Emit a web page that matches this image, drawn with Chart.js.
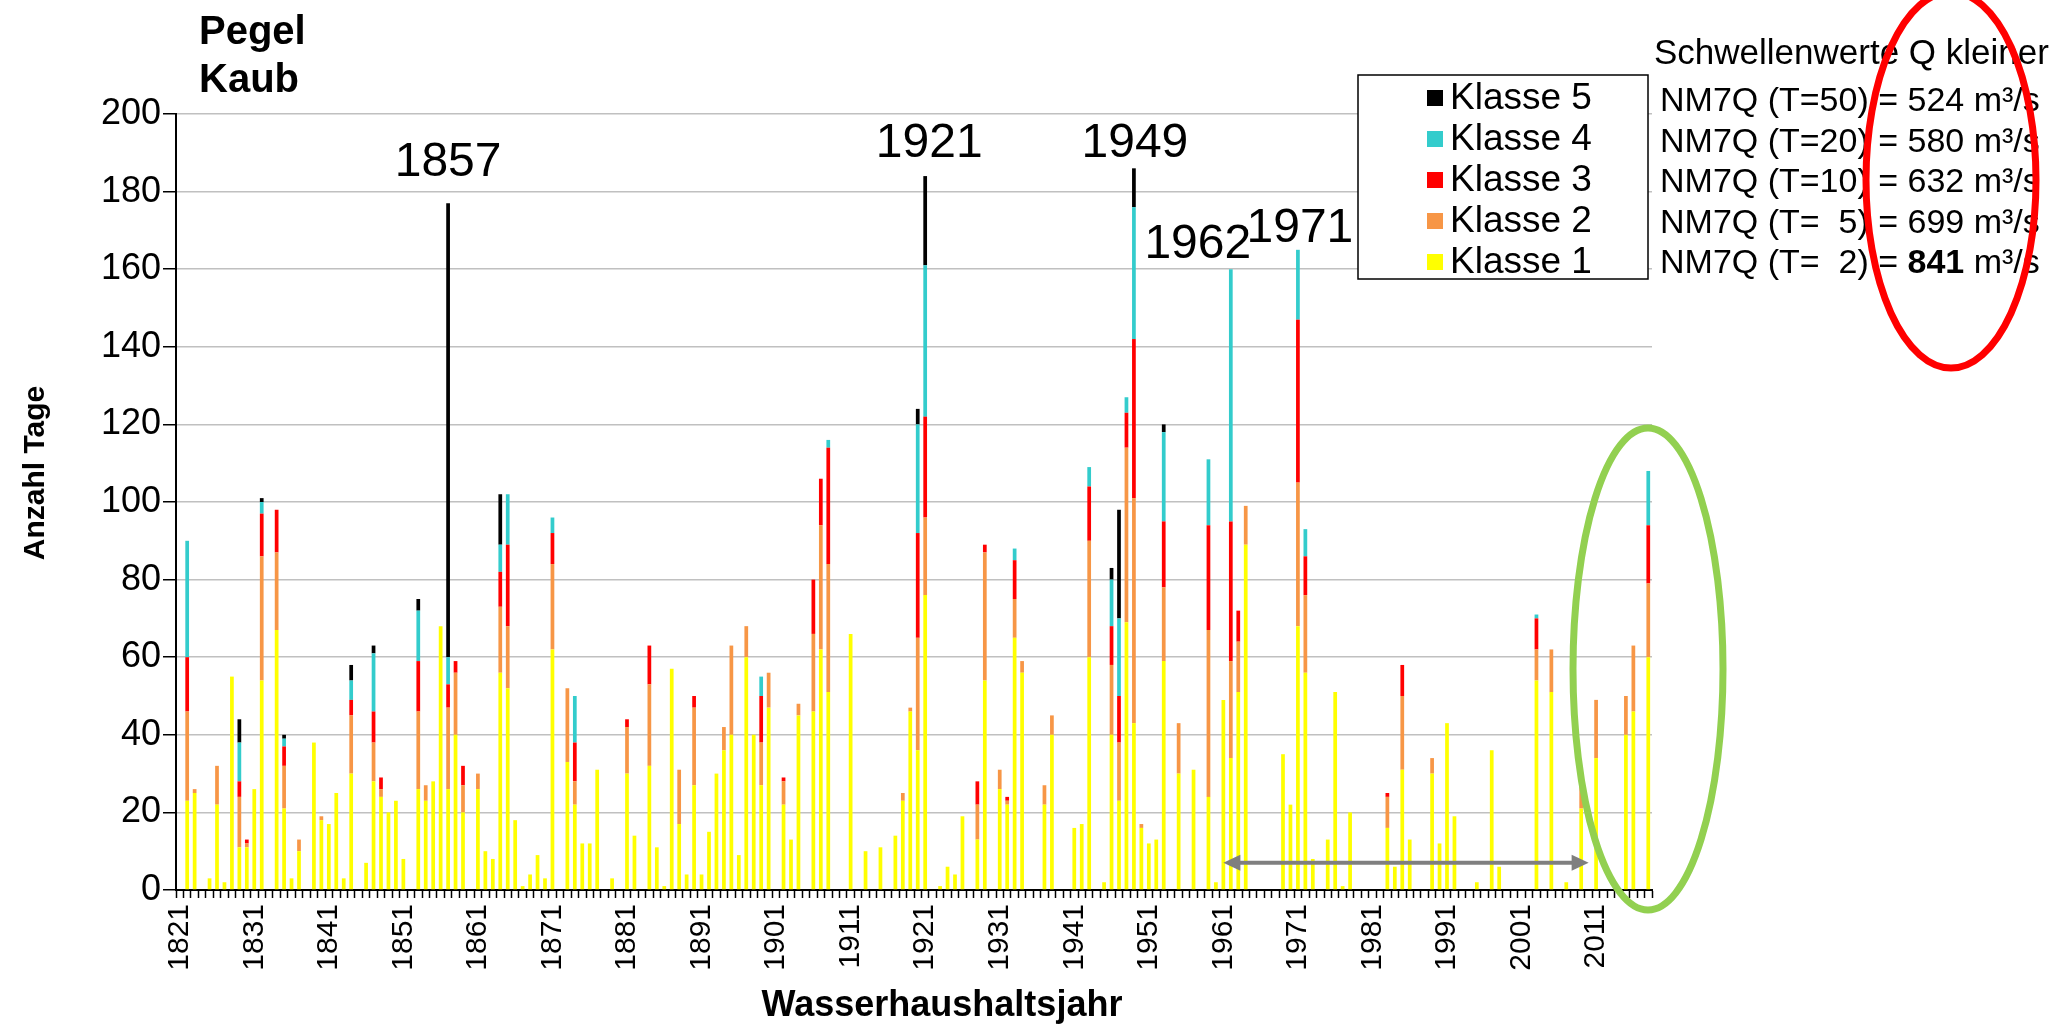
<!DOCTYPE html>
<html>
<head>
<meta charset="utf-8">
<title>Pegel Kaub</title>
<script src="https://cdn.jsdelivr.net/npm/chart.js@4.4.1/dist/chart.umd.min.js"></script>
<style>
  html, body { margin: 0; padding: 0; background: #fff; }
  #wrap { width: 2062px; height: 1024px; position: relative; }
</style>
</head>
<body>
<div id="wrap"><canvas id="chart" width="2062" height="1024"></canvas></div>
<script>
// Wasserhaushaltsjahre 1821..2018 (x-Kategorien)
const years = [];
for (let y = 1821; y <= 2018; y++) years.push(String(y));

// Jahre mit Niedrigwassertagen
const dataYears = [
  1822,1823,1825,1826,1827,1828,1829,1830,1831,1832,
  1834,1835,1836,1837,1839,1840,1841,1842,1843,1844,
  1846,1847,1848,1849,1850,1851,1853,1854,1855,1856,
  1857,1858,1859,1861,1862,1863,1864,1865,1866,1867,
  1868,1869,1870,1871,1873,1874,1875,1876,1877,1879,
  1881,1882,1884,1885,1886,1887,1888,1889,1890,1891,
  1892,1893,1894,1895,1896,1897,1898,1899,1900,1902,
  1903,1904,1906,1907,1908,1911,1913,1915,1917,1918,
  1919,1920,1921,1923,1924,1925,1926,1928,1929,1931,
  1932,1933,1934,1937,1938,1941,1942,1943,1945,1946,
  1947,1948,1949,1950,1951,1952,1953,1955,1957,1959,
  1960,1961,1962,1963,1964,1969,1970,1971,1972,1973,
  1975,1976,1977,1978,1983,1984,1985,1986,1989,1990,
  1991,1992,1995,1997,1998,2003,2005,2007,2009,2011,
  2015,2016,2018
];

// Anzahl Tage je Klasse (gleiche Reihenfolge wie dataYears)
const klasse1 = [
  23,25,3,22,2,55,11,11,26,54,
  67,21,3,10,38,18,17,25,3,30,
  7,28,24,20,23,8,26,23,28,68,
  26,40,20,26,10,8,56,52,18,1,
  4,9,3,62,33,22,12,12,31,3,
  30,14,32,11,1,57,17,4,27,4,
  15,30,36,40,9,60,40,27,47,22,
  13,45,46,62,51,66,10,11,14,23,
  46,36,76,1,6,4,19,13,54,26,
  22,65,56,22,40,16,17,60,2,40,
  23,69,43,16,12,13,59,30,31,24,
  2,49,34,51,89,35,22,68,56,8,
  13,51,1,20,16,6,31,13,30,12,
  43,19,2,36,6,54,51,2,21,34,
  40,46,60
];
const klasse2 = [
  23,1,0,10,0,0,13,1,0,32,
  20,11,0,3,0,1,0,0,0,15,
  0,10,2,0,0,0,20,4,0,0,
  21,16,7,4,0,0,17,16,0,0,
  0,0,0,22,19,6,0,0,0,0,
  12,0,21,0,0,0,14,0,20,0,
  0,0,6,23,0,8,0,11,9,6,
  0,3,20,32,33,0,0,0,0,2,
  1,29,20,0,0,0,0,9,33,5,
  1,10,3,5,5,0,0,30,0,18,
  15,45,58,1,0,0,19,13,0,43,
  0,0,25,13,10,0,0,37,20,0,
  0,0,0,0,8,0,19,0,4,0,
  0,0,0,0,0,8,11,0,8,15,
  10,17,19
];
const klasse3 = [
  14,0,0,0,0,0,4,1,0,11,
  11,5,0,0,0,0,0,0,0,4,
  0,8,3,0,0,0,13,0,0,0,
  6,3,5,0,0,0,9,21,0,0,
  0,0,0,8,0,10,0,0,0,0,
  2,0,10,0,0,0,0,0,3,0,
  0,0,0,0,0,0,0,12,0,1,
  0,0,14,12,30,0,0,0,0,0,
  0,27,26,0,0,0,0,6,2,0,
  1,10,0,0,0,0,0,14,0,10,
  12,9,41,0,0,0,17,0,0,27,
  0,0,36,8,0,0,0,42,10,0,
  0,0,0,0,1,0,8,0,0,0,
  0,0,0,0,0,8,0,0,0,0,
  0,0,15
];
const klasse4 = [
  30,0,0,0,0,0,10,0,0,3,
  0,2,0,0,0,0,0,0,0,5,
  0,15,0,0,0,0,13,0,0,0,
  7,0,0,0,0,0,7,13,0,0,
  0,0,0,4,0,12,0,0,0,0,
  0,0,0,0,0,0,0,0,0,0,
  0,0,0,0,0,0,0,5,0,0,
  0,0,0,0,2,0,0,0,0,0,
  0,28,39,0,0,0,0,0,0,0,
  0,3,0,0,0,0,0,5,0,12,
  20,4,34,0,0,0,23,0,0,17,
  0,0,65,0,0,0,0,18,7,0,
  0,0,0,0,0,0,0,0,0,0,
  0,0,0,0,0,1,0,0,0,0,
  0,0,14
];
const klasse5 = [
  0,0,0,0,0,0,6,0,0,1,
  0,1,0,0,0,0,0,0,0,4,
  0,2,0,0,0,0,3,0,0,0,
  117,0,0,0,0,0,13,0,0,0,
  0,0,0,0,0,0,0,0,0,0,
  0,0,0,0,0,0,0,0,0,0,
  0,0,0,0,0,0,0,0,0,0,
  0,0,0,0,0,0,0,0,0,0,
  0,4,23,0,0,0,0,0,0,0,
  0,0,0,0,0,0,0,0,0,3,
  28,0,10,0,0,0,2,0,0,0,
  0,0,0,0,0,0,0,0,0,0,
  0,0,0,0,0,0,0,0,0,0,
  0,0,0,0,0,0,0,0,0,0,
  0,0,0
];

const yTicks = [0, 20, 40, 60, 80, 100, 120, 140, 160, 180, 200];

// markierte Jahre und Hoehe der Beschriftung (Anzahl Tage)
const markYears = ['1857', '1921', '1949', '1962', '1971'];
const markLevel = [184, 189, 189, 163, 167];

const thresholds = ['T=50', 'T=20', 'T=10', 'T=  5', 'T=  2'];
const thresholdQ = ['524', '580', '632', '699', '841'];

// Werte auf alle Jahre verteilen
function expand(vals) {
  const out = years.map(() => null);
  dataYears.forEach((y, i) => { if (vals[i]) out[y - 1821] = vals[i]; });
  return out;
}

const FONT = '"Liberation Sans", Arial, sans-serif';
const colors = ['#FFFF00', '#F79646', '#FF0000', '#33CCCC', '#000000'];
const names = ['Klasse 1', 'Klasse 2', 'Klasse 3', 'Klasse 4', 'Klasse 5'];
const series = [klasse1, klasse2, klasse3, klasse4, klasse5];

const datasets = series.map((s, i) => ({
  label: names[i],
  data: expand(s),
  backgroundColor: colors[i],
  borderWidth: 0,
  barPercentage: 0.5,
  categoryPercentage: 1.0,
}));

const overlay = {
  id: 'overlay',
  afterDraw(chart) {
    const c = chart.ctx;
    const xs = chart.scales.x, ys = chart.scales.y;
    c.save();

    // Pfeil 1961 - 2010
    const ax1 = xs.getPixelForValue(1961 - 1821), ax2 = xs.getPixelForValue(2010 - 1821);
    const ay = ys.getPixelForValue(7);
    c.strokeStyle = '#7f7f7f'; c.fillStyle = '#7f7f7f'; c.lineWidth = 4;
    c.beginPath(); c.moveTo(ax1 + 14, ay); c.lineTo(ax2 - 14, ay); c.stroke();
    c.beginPath(); c.moveTo(ax1, ay); c.lineTo(ax1 + 17, ay - 8); c.lineTo(ax1 + 17, ay + 8); c.closePath(); c.fill();
    c.beginPath(); c.moveTo(ax2, ay); c.lineTo(ax2 - 17, ay - 8); c.lineTo(ax2 - 17, ay + 8); c.closePath(); c.fill();

    // Jahreszahlen
    const dx = [0, 4, 1, -33, 2];
    c.fillStyle = '#000'; c.font = '48px ' + FONT; c.textAlign = 'center'; c.textBaseline = 'alphabetic';
    markYears.forEach((y, i) => {
      c.fillText(y, xs.getPixelForValue(+y - 1821) + dx[i], ys.getPixelForValue(markLevel[i]));
    });

    // Titel
    c.textAlign = 'left';
    c.font = 'bold 40px ' + FONT;
    c.fillText('Pegel', 199, 44);
    c.fillText('Kaub', 199, 92);

    // Achsentitel
    c.font = 'bold 36px ' + FONT;
    c.textAlign = 'center';
    c.fillText('Wasserhaushaltsjahr', 942, 1016);
    c.font = 'bold 30px ' + FONT;
    c.save();
    c.translate(44, 473); c.rotate(-Math.PI / 2);
    c.fillText('Anzahl Tage', 0, 0);
    c.restore();

    // Legende
    c.fillStyle = '#fff'; c.fillRect(1358, 75, 290, 204);
    c.strokeStyle = '#000'; c.lineWidth = 1.5; c.strokeRect(1358, 75, 290, 204);
    c.font = '37px ' + FONT; c.textAlign = 'left'; c.textBaseline = 'middle';
    for (let k = 4; k >= 0; k--) {
      const ly = 98 + (4 - k) * 41;
      c.fillStyle = colors[k]; c.fillRect(1427, ly - 8, 16, 16);
      c.fillStyle = '#000'; c.fillText(names[k], 1450, ly + 1);
    }

    // Schwellenwerte
    c.font = '35px ' + FONT;
    c.fillText('Schwellenwerte Q kleiner', 1654, 54);
    thresholds.forEach((t, i) => {
      const ty = 102 + i * 40.5;
      let tx = 1660;
      const pre = 'NM7Q (' + t + ') = ';
      c.font = '34px ' + FONT; c.fillText(pre, tx, ty); tx += c.measureText(pre).width;
      c.font = (i === 4 ? 'bold ' : '') + '34px ' + FONT; c.fillText(thresholdQ[i], tx, ty); tx += c.measureText(thresholdQ[i]).width;
      c.font = '34px ' + FONT; c.fillText(' m\u00b3/s', tx, ty);
    });

    // Ellipsen
    c.lineWidth = 7;
    c.strokeStyle = '#92D050';
    c.beginPath(); c.ellipse(1648, 669, 75, 241, 0, 0, Math.PI * 2); c.stroke();
    c.strokeStyle = '#FF0000';
    c.beginPath(); c.ellipse(1951, 180, 85, 188, 0, 0, Math.PI * 2); c.stroke();

    c.restore();
  }
};

const ctx = document.getElementById('chart').getContext('2d');
new Chart(ctx, {
  type: 'bar',
  data: { labels: years, datasets: datasets },
  options: {
    responsive: false,
    animation: false,
    devicePixelRatio: 1,
    layout: { padding: { top: 114, right: 410, left: 0, bottom: 0 } },
    plugins: { legend: { display: false }, tooltip: { enabled: false }, title: { display: false } },
    scales: {
      x: {
        stacked: true,
        afterFit(scale) { scale.height = 134; },
        border: { color: '#000', width: 2 },
        grid: { drawOnChartArea: false, offset: true, tickLength: 8, tickColor: '#000', tickWidth: 1.5 },
        ticks: {
          autoSkip: false, minRotation: 90, maxRotation: 90, padding: 6,
          color: '#000', font: { family: FONT, size: 30 },
          callback: function (v, i) { return i % 10 === 0 ? this.getLabelForValue(v) : ''; }
        }
      },
      y: {
        stacked: true,
        min: yTicks[0], max: yTicks[yTicks.length - 1],
        afterFit(scale) { scale.width = 176; },
        afterBuildTicks(scale) { scale.ticks = yTicks.map(v => ({ value: v })); },
        border: { color: '#000', width: 2 },
        grid: { color: '#c0c0c0', lineWidth: 1.5, tickLength: 13, tickColor: '#000', tickWidth: 1.5 },
        ticks: { color: '#000', padding: 2, font: { family: FONT, size: 36 } }
      }
    }
  },
  plugins: [overlay]
});
</script>
</body>
</html>
